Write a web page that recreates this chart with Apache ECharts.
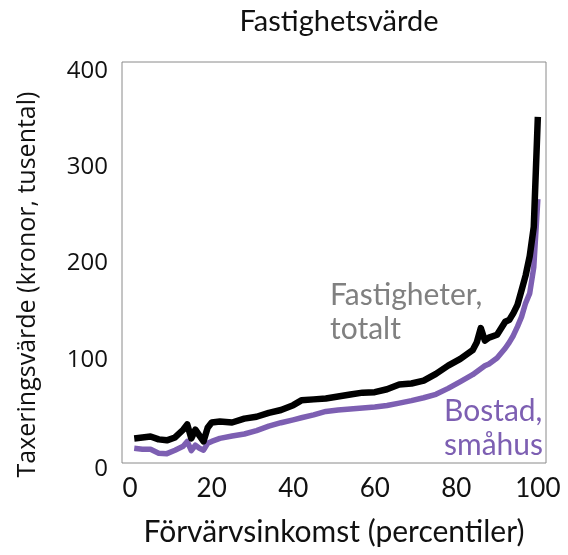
<!DOCTYPE html>
<html>
<head>
<meta charset="utf-8">
<script src="https://cdn.jsdelivr.net/npm/echarts@6/dist/echarts.min.js"></script>
<style>
  html, body { margin: 0; padding: 0; background: #fff; }
  #chart { width: 568px; height: 555px; }
</style>
</head>
<body>
<div id="chart"></div>
<script>
// percentiler (x) och taxeringsvärde i tusental kronor
var percentiles = [1, 3, 5, 7, 9, 11, 13, 14, 15, 16, 17, 18, 19, 20, 22, 25, 28, 31, 34, 37, 40, 42, 45, 48, 51, 54, 57, 60, 63, 66, 69, 72, 75, 78, 81, 84, 85, 86, 87, 88, 90, 92, 93, 94, 95, 96, 97, 98, 99, 100];
var fastigheterTotalt = [18.5, 19.5, 20.5, 17.5, 16.5, 19.5, 27.5, 33, 18.5, 27.5, 21.5, 15.5, 29.5, 35, 36, 35, 39, 41, 45, 48, 53, 58, 59, 60, 62, 64, 66, 66.5, 69.5, 74.5, 75.5, 78.5, 85.5, 94, 101, 110, 118, 133, 120, 123, 126, 139.5, 141.5, 148.5, 157, 172, 187.5, 207.5, 238, 352];
var bostadSmahus = [8.3, 7.3, 7.3, 3.2, 2.7, 6.3, 10.4, 15.4, 5.8, 11.4, 8.3, 6.3, 13.4, 15.4, 18.5, 21, 23.1, 26.6, 31.2, 34.8, 37.8, 39.9, 42.9, 46.5, 48, 49, 50, 51, 52.6, 55.1, 57.7, 60.7, 64.3, 70.4, 77.5, 84.6, 87.7, 90.7, 93.8, 95.8, 101.9, 112.1, 118.2, 125.3, 134.5, 144.6, 158.9, 169, 196, 266.7];
var xTicks = [0, 20, 40, 60, 80, 100];
var yTicks = [0, 100, 200, 300, 400];

function pairs(xs, ys) {
  var out = [];
  for (var i = 0; i < xs.length; i++) {
    out.push([xs[i], ys[i]]);
  }
  return out;
}

var gill = "Lato, 'Open Sans', sans-serif";
var myChart = echarts.init(document.getElementById("chart"));

myChart.setOption({
  animation: false,
  title: {
    text: "Fastighetsvärde",
    left: 334,
    top: 2,
    textAlign: "center",
    textStyle: { fontFamily: gill, fontSize: 29, fontWeight: "normal", color: "#111" }
  },
  grid: {
    left: 122,
    right: 22,
    top: 62,
    bottom: 92,
    show: true,
    borderColor: "#8a8a8a",
    borderWidth: 1
  },
  xAxis: {
    type: "value",
    min: -2,
    max: 102,
    name: "Förvärvsinkomst (percentiler)",
    nameLocation: "middle",
    nameGap: 54,
    nameTextStyle: { fontFamily: gill, fontSize: 30, color: "#111" },
    axisLine: { show: false },
    axisTick: { show: false },
    splitLine: { show: false },
    axisLabel: {
      customValues: xTicks,
      margin: 13,
      fontFamily: gill,
      fontSize: 26,
      color: "#111"
    }
  },
  yAxis: {
    type: "value",
    min: -7,
    max: 409,
    name: "Taxeringsvärde (kronor, tusental)",
    nameLocation: "middle",
    nameGap: 82,
    nameTextStyle: {
      fontFamily: "'Open Sans', sans-serif",
      fontSize: 25,
      color: "#111",
      padding: [0, 44, 0, 0]
    },
    axisLine: { show: false },
    axisTick: { show: false },
    splitLine: { show: false },
    axisLabel: {
      customValues: yTicks,
      margin: 14,
      fontFamily: "'Open Sans', sans-serif",
      fontSize: 24,
      color: "#111",
      formatter: function (v) {
        return v === 0 ? "{z|0}" : String(v);
      },
      rich: {
        z: {
          fontFamily: "'Open Sans', sans-serif",
          fontSize: 24,
          color: "#111",
          padding: [26, 0, 0, 0]
        }
      }
    }
  },
  series: [
    {
      name: "Fastigheter, totalt",
      type: "line",
      data: pairs(percentiles, fastigheterTotalt),
      showSymbol: false,
      lineStyle: { color: "#000", width: 6.5, join: "round" },
      z: 3
    },
    {
      name: "Bostad, småhus",
      type: "line",
      data: pairs(percentiles, bostadSmahus),
      showSymbol: false,
      lineStyle: { color: "#7d5fb2", width: 5.5, join: "round" },
      z: 2
    }
  ],
  graphic: [
    {
      type: "text",
      left: 330,
      top: 278,
      style: {
        text: "Fastigheter,\ntotalt",
        font: "30px " + gill,
        lineHeight: 34,
        fill: "#808080"
      }
    },
    {
      type: "text",
      right: 25,
      top: 394,
      style: {
        text: "Bostad,\nsmåhus",
        font: "30px " + gill,
        lineHeight: 34,
        fill: "#7d5fb2",
        align: "right"
      }
    }
  ]
});
</script>
</body>
</html>
